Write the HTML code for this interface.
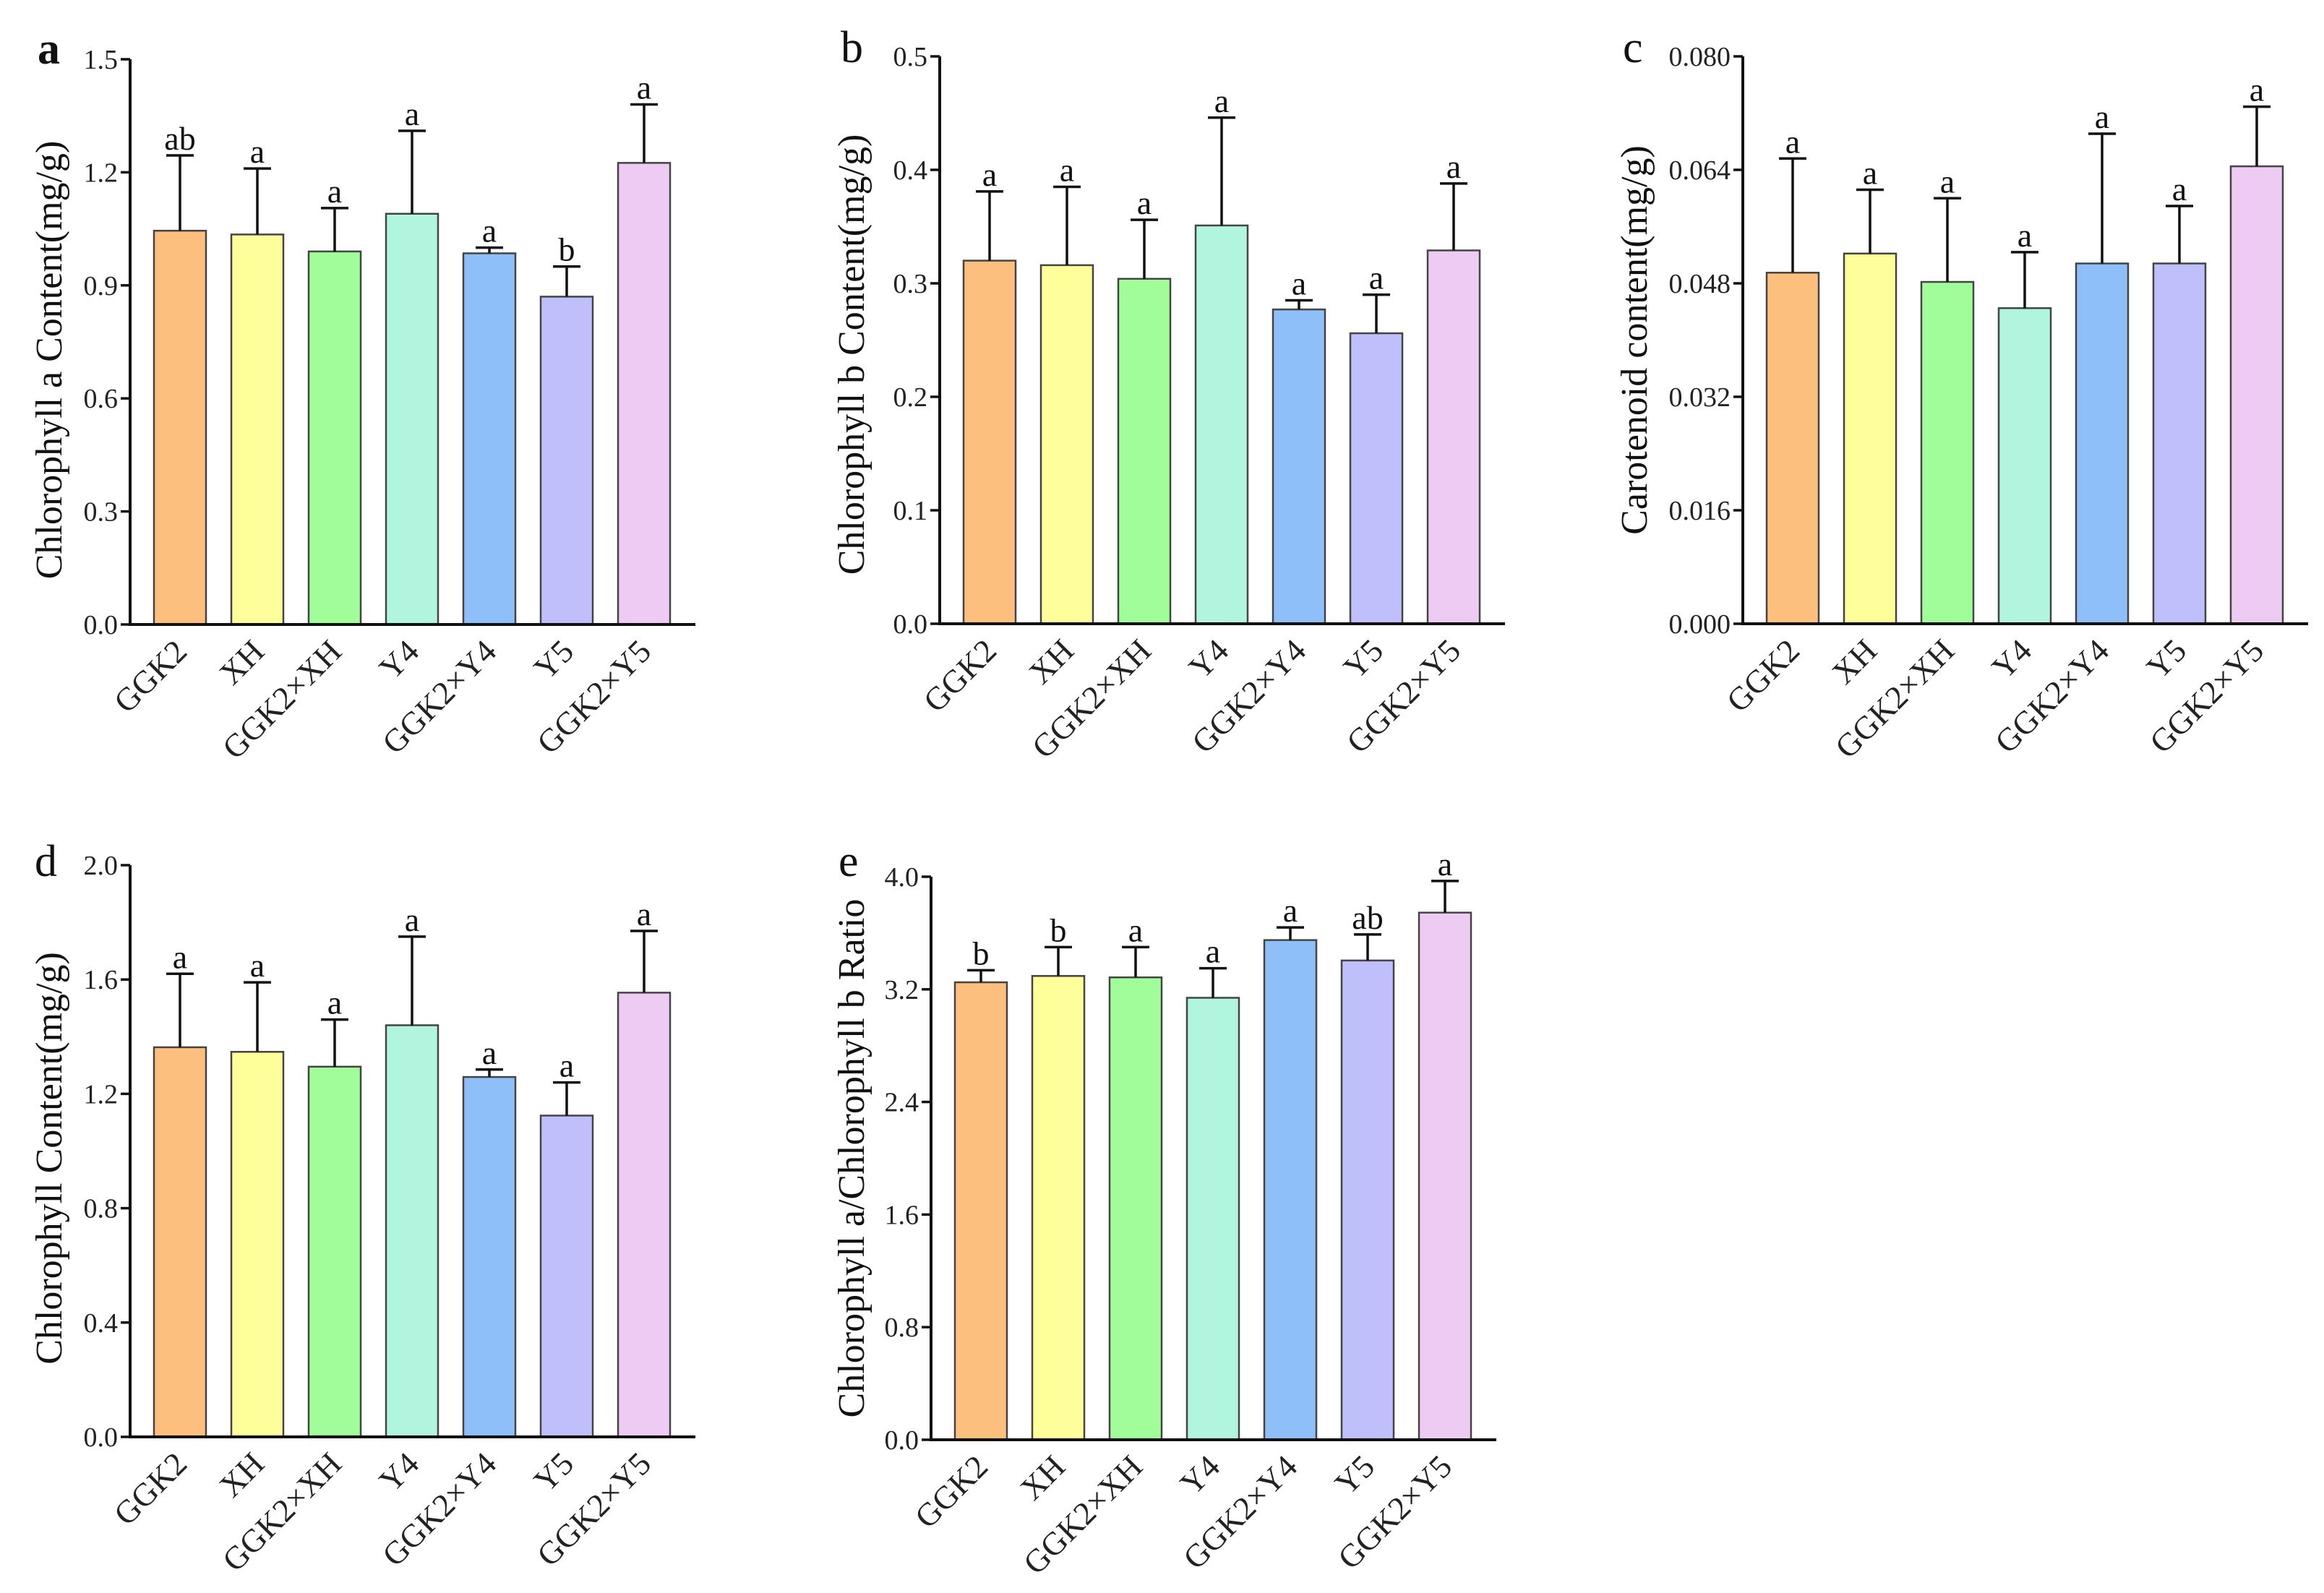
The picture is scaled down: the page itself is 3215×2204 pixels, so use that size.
<!DOCTYPE html>
<html><head><meta charset="utf-8">
<style>
html,body{margin:0;padding:0;background:#fff;}
svg{display:block;font-family:"Liberation Serif",serif;}
</style></head>
<body>
<svg id="fig" width="3215" height="2204" viewBox="0 0 3215 2204" xmlns="http://www.w3.org/2000/svg"></svg>
<script>
const categories = ["GGK2","XH","GGK2×XH","Y4","GGK2×Y4","Y5","GGK2×Y5"];
const colors = ["#FDBF7E","#FEFE9A","#A0FD9A","#B2F5DE","#8FBFF8","#BFBFFB","#EDCBF3"];

const valuesA = [1.045,1.035,0.99,1.09,0.985,0.87,1.225];
const errTopA = [1.245,1.21,1.105,1.31,1.0,0.95,1.38];
const lettersA = ["ab","a","a","a","a","b","a"];
const ticksA = ["0.0","0.3","0.6","0.9","1.2","1.5"];

const valuesB = [0.32,0.316,0.304,0.351,0.277,0.256,0.329];
const errTopB = [0.381,0.385,0.356,0.446,0.285,0.29,0.388];
const lettersB = ["a","a","a","a","a","a","a"];
const ticksB = ["0.0","0.1","0.2","0.3","0.4","0.5"];

const valuesC = [0.0495,0.0522,0.0482,0.0445,0.0508,0.0508,0.0645];
const errTopC = [0.0656,0.0612,0.0600,0.0524,0.0691,0.0589,0.0729];
const lettersC = ["a","a","a","a","a","a","a"];
const ticksC = ["0.000","0.016","0.032","0.048","0.064","0.080"];

const valuesD = [1.363,1.347,1.295,1.44,1.259,1.124,1.554];
const errTopD = [1.62,1.59,1.46,1.75,1.285,1.24,1.77];
const lettersD = ["a","a","a","a","a","a","a"];
const ticksD = ["0.0","0.4","0.8","1.2","1.6","2.0"];

const valuesE = [3.25,3.295,3.285,3.14,3.55,3.405,3.745];
const errTopE = [3.336,3.5,3.5,3.35,3.64,3.59,3.97];
const lettersE = ["b","b","a","a","a","ab","a"];
const ticksE = ["0.0","0.8","1.6","2.4","3.2","4.0"];

const NS="http://www.w3.org/2000/svg";
const svg=document.getElementById('fig');
function mk(tag,attrs,parent){const e=document.createElementNS(NS,tag);for(const k in attrs)e.setAttribute(k,attrs[k]);(parent||svg).appendChild(e);return e;}

function panel(o){
  const g=mk('g',{});
  
  
  const x0=o.x0,yT=o.yT,yB=o.yB,xR=o.x0+782;
  const tmax=parseFloat(o.ticks[o.ticks.length-1]);
  const yS=v=>yB-(v/tmax)*(yB-yT);
  const xS=i=>x0+69+i*107;
  o.values.forEach((v,i)=>{
    const cx=xS(i);
    const r=mk('rect',{x:cx-36,y:yS(v),width:72,height:yB-yS(v),fill:colors[i],stroke:'#444','stroke-width':2.5},g);
    
    
    const ey=yS(o.err[i]);
    const el=mk('path',{d:`M${cx} ${yS(v)}V${ey}M${cx-19} ${ey}H${cx+19}`,stroke:'#111','stroke-width':3.5,fill:'none'},g);
    
    
    const t=mk('text',{x:cx,y:ey-8,'text-anchor':'middle','font-size':46,fill:'#111'},g);
    t.textContent=o.letters[i];
    
    
    const lab=mk('text',{x:0,y:0,'text-anchor':'end','font-size':45,fill:'#222',transform:`translate(${cx+12},${yB+40}) rotate(-45)`},g);
    lab.textContent=categories[i];
    
    
  });
  const ax=mk('path',{d:`M${x0} ${yT}V${yB}H${xR}`,stroke:'#111','stroke-width':4,fill:'none'},g);
  
  
  o.ticks.forEach(tk=>{
    const y=yS(parseFloat(tk));
    mk('line',{x1:x0-13,x2:x0,y1:y,y2:y,stroke:'#111','stroke-width':3.5},g);
    const t=mk('text',{x:x0-17,y:y+13,'text-anchor':'end','font-size':38,fill:'#222'},g);
    t.textContent=tk;
    
    
  });
  const tc=(yT+yB)/2+o.tOff;
  const ttl=mk('text',{x:0,y:0,'text-anchor':'middle','font-size':52,fill:'#111',transform:`translate(${o.tx},${tc}) rotate(-90)`},g);
  ttl.textContent=o.title;
  
  
  const pl=mk('text',{x:o.lx,y:o.ly,'font-size':62,'font-weight':o.bold?'bold':'normal',fill:'#111'},g);
  pl.textContent=o.letter;
  
  
}
panel({letter:'a',bold:true,x0:180,yT:82,yB:864,values:valuesA,err:errTopA,letters:lettersA,ticks:ticksA,title:'Chlorophyll a Content(mg/g)',tx:85,tOff:25,lx:52,ly:88});
panel({letter:'b',x0:1300,yT:78,yB:863,values:valuesB,err:errTopB,letters:lettersB,ticks:ticksB,title:'Chlorophyll b Content(mg/g)',tx:1195,tOff:20,lx:1163,ly:86});
panel({letter:'c',x0:2411,yT:78,yB:863,values:valuesC,err:errTopC,letters:lettersC,ticks:ticksC,title:'Carotenoid content(mg/g)',tx:2278,tOff:0,lx:2245,ly:86});
panel({letter:'d',x0:180,yT:1197,yB:1988,values:valuesD,err:errTopD,letters:lettersD,ticks:ticksD,title:'Chlorophyll Content(mg/g)',tx:85,tOff:10,lx:48,ly:1212});
panel({letter:'e',x0:1288,yT:1213,yB:1992,values:valuesE,err:errTopE,letters:lettersE,ticks:ticksE,title:'Chlorophyll a/Chlorophyll b Ratio',tx:1195,tOff:0,lx:1160,ly:1212});
</script>
</body></html>
